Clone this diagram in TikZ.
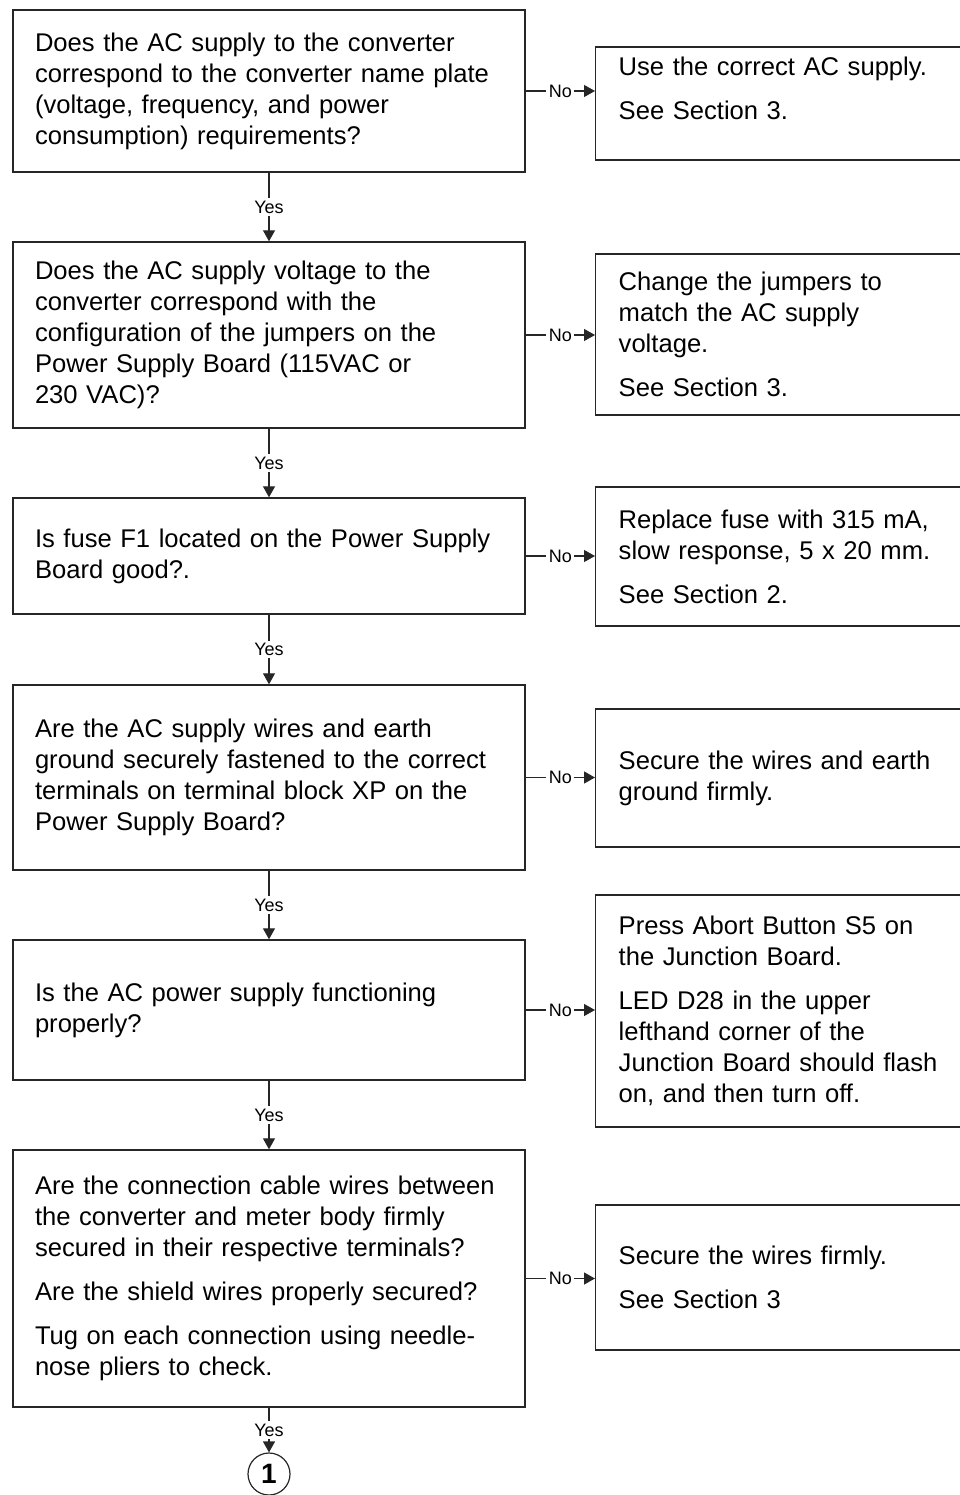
\documentclass[tikz,border=0pt]{standalone}
\usepackage{fontspec}
\setmainfont{Liberation Sans}
\usetikzlibrary{arrows.meta,positioning}
\begin{document}
\begin{tikzpicture}[x=1pt,y=-1pt,line width=1.4pt,
  box/.style={draw=black!85,rectangle,align=left,inner ysep=0pt,font=\fontsize{25.6}{31}\selectfont},
  qbox/.style={box,text width=468pt,inner xsep=22pt},
  abox/.style={box,text width=340pt,inner xsep=23pt,anchor=west},
  flow/.style={draw=black!85,line width=1.2pt,-{Triangle[length=11pt,width=12pt]}},
  lbl/.style={fill=white,inner sep=2.5pt,font=\fontsize{18}{20}\selectfont}]
\useasboundingbox (0,0) rectangle (960,1495);
\clip (0,0) rectangle (960,1495);
\node[qbox,minimum height=162pt] (q1) at (269,91) {Does the AC supply to the converter\\correspond to the converter name plate\\(voltage, frequency, and power\\consumption) requirements?};
\node[qbox,minimum height=186pt] (q2) at (269,335) {Does the AC supply voltage to the\\converter correspond with the\\configuration of the jumpers on the\\Power Supply Board (115VAC or\\230 VAC)?};
\node[qbox,minimum height=116pt] (q3) at (269,556) {Is fuse F1 located on the Power Supply\\Board good?.};
\node[qbox,minimum height=185pt] (q4) at (269,777.5) {Are the AC supply wires and earth\\ground securely fastened to the correct\\terminals on terminal block XP on the\\Power Supply Board?};
\node[qbox,minimum height=140pt] (q5) at (269,1010) {Is the AC power supply functioning\\properly?};
\node[qbox,minimum height=257pt] (q6) at (269,1278.5) {Are the connection cable wires between\\the converter and meter body firmly\\secured in their respective terminals?\\[13pt]Are the shield wires properly secured?\\[13pt]Tug on each connection using needle-\\nose pliers to check.};
\node[abox,minimum height=113pt] (a1) at (595,103.5) {Use the correct AC supply.\\[13pt]See Section 3.\\\mbox{}};
\node[abox,minimum height=161pt] (a2) at (595,334.5) {Change the jumpers to\\match the AC supply\\voltage.\\[13pt]See Section 3.};
\node[abox,minimum height=139pt] (a3) at (595,556.5) {Replace fuse with 315 mA,\\slow response, 5 x 20 mm.\\[13pt]See Section 2.};
\node[abox,minimum height=138pt] (a4) at (595,778) {Secure the wires and earth\\ground firmly.};
\node[abox,minimum height=232pt] (a5) at (595,1011) {Press Abort Button S5 on\\the Junction Board.\\[13pt]LED D28 in the upper\\lefthand corner of the\\Junction Board should flash\\on, and then turn off.};
\node[abox,minimum height=145pt] (a6) at (595,1277.5) {Secure the wires firmly.\\[13pt]See Section 3};
\node[circle,draw=black!85,line width=1.2pt,minimum size=42pt,inner sep=0pt,font=\fontsize{28}{28}\selectfont\bfseries] (c1) at (269,1474) {1};
\foreach \q/\a in {q1/a1,q2/a2,q3/a3,q4/a4,q5/a5,q6/a6}
  \draw[flow] (\q.east) -- node[lbl] {No} (\q.east -| \a.west);
\foreach \q/\n in {q1/q2,q2/q3,q3/q4,q4/q5,q5/q6,q6/c1}
  \draw[flow] (\q) -- node[lbl] {Yes} (\n);
\end{tikzpicture}
\end{document}
